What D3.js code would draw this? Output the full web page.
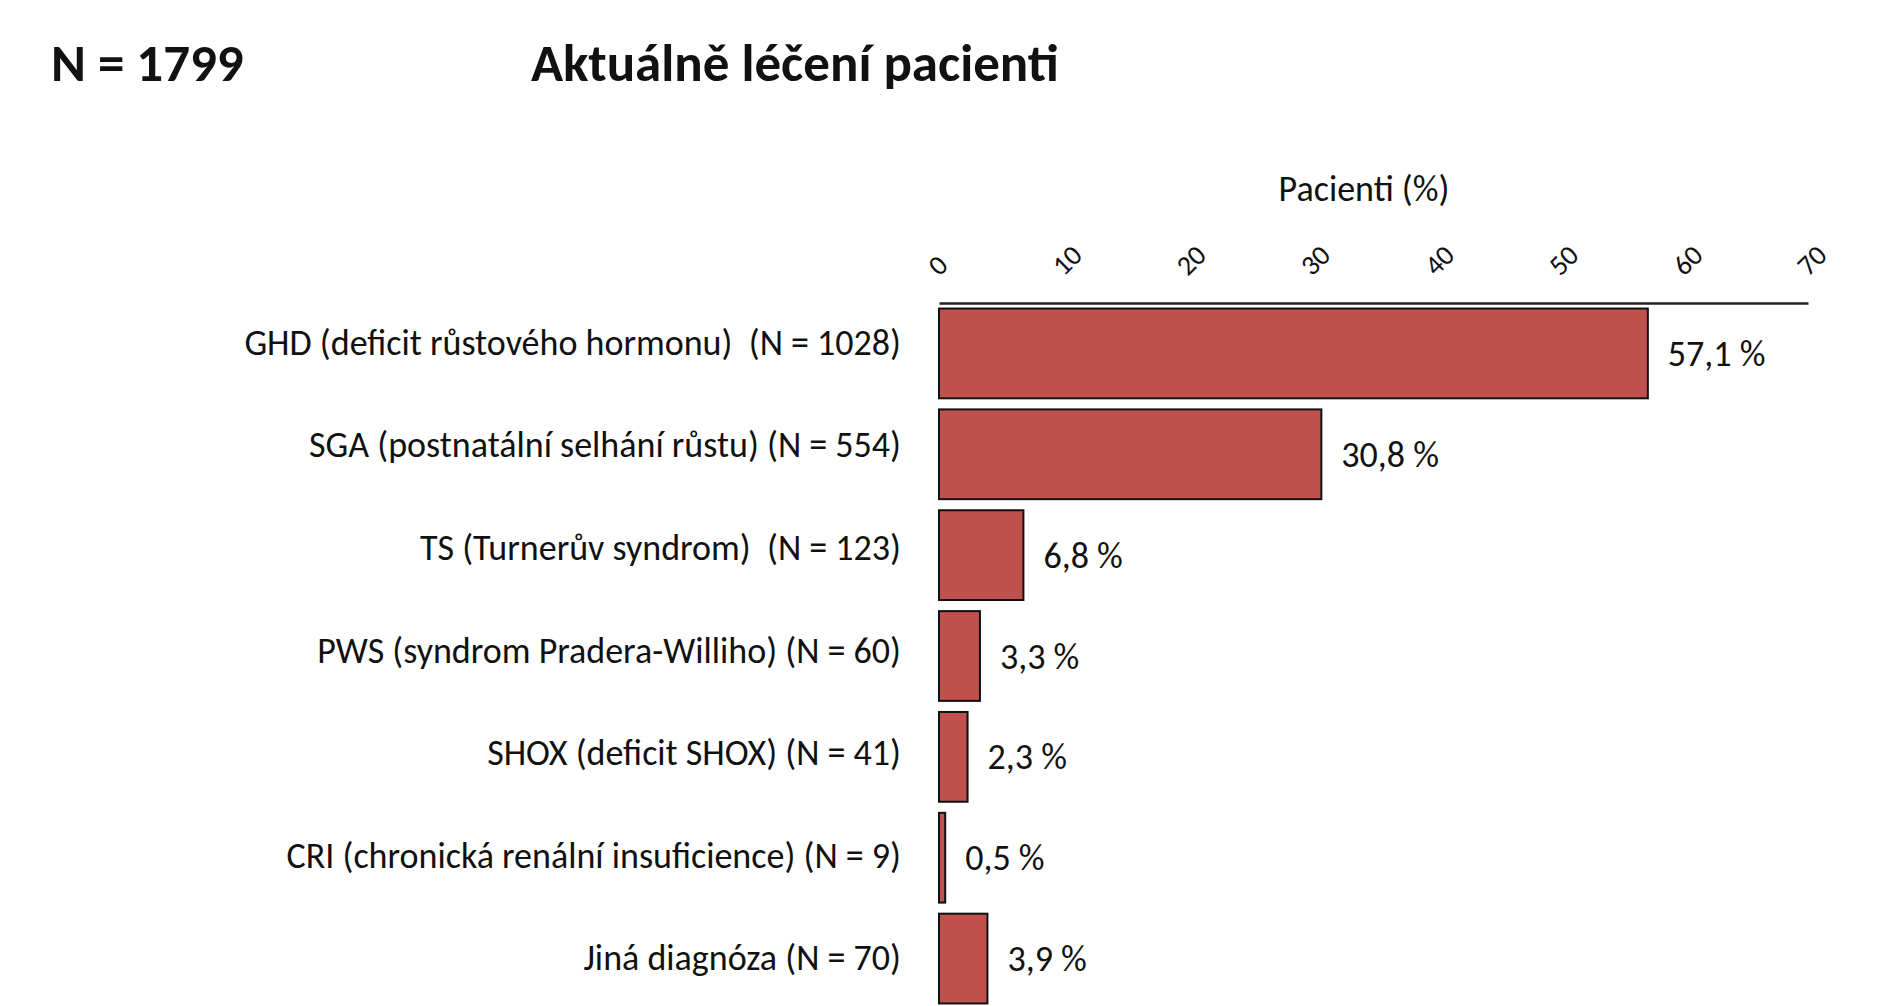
<!DOCTYPE html>
<html>
<head>
<meta charset="utf-8">
<script src="https://cdn.jsdelivr.net/npm/d3@7"></script>
<style>
  body { margin: 0; background: #fff; }
  text { font-family: Carlito, Lato, "Open Sans", sans-serif; fill: #111; white-space: pre; }
</style>
</head>
<body>
<script>
var categories = [
  "GHD (deficit růstového hormonu)  (N = 1028)",
  "SGA (postnatální selhání růstu) (N = 554)",
  "TS (Turnerův syndrom)  (N = 123)",
  "PWS (syndrom Pradera-Williho) (N = 60)",
  "SHOX (deficit SHOX) (N = 41)",
  "CRI (chronická renální insuficience) (N = 9)",
  "Jiná diagnóza (N = 70)"
];
var values = [57.1, 30.8, 6.8, 3.3, 2.3, 0.5, 3.9];
var valueLabels = ["57,1 %", "30,8 %", "6,8 %", "3,3 %", "2,3 %", "0,5 %", "3,9 %"];
var ticks = [0, 10, 20, 30, 40, 50, 60, 70];

var width = 1888,
    height = 1006,
    svg = d3.select("body").append("svg")
      .attr("width", width)
      .attr("height", height);

var x = d3.scaleLinear().domain([0, 70]).range([939, 1808]);
var y = d3.scaleBand().domain(categories).range([303, 1009]).paddingInner(0.11).paddingOuter(0.055);
// category text sits on its own, slightly wider band layout
var yLabel = d3.scaleBand().domain(categories).range([292, 1010]);

// titles
svg.append("text").attr("x", 51).attr("y", 81)
  .style("font-size", "53px").style("font-weight", "bold")
  .text("N = 1799");
svg.append("text").attr("x", 531).attr("y", 81)
  .style("font-size", "53px").style("font-weight", "bold")
  .text("Aktuálně léčení pacienti");

svg.append("text").attr("x", 1364).attr("y", 201)
  .attr("text-anchor", "middle")
  .style("font-size", "36px")
  .text("Pacienti (%)");

// bars
svg.selectAll("rect.bar")
  .data(values)
  .enter().append("rect")
    .attr("class", "bar")
    .attr("x", x(0))
    .attr("y", function(d, i) { return y(categories[i]); })
    .attr("width", function(d) { return x(d) - x(0); })
    .attr("height", y.bandwidth())
    .attr("fill", "#c0504d")
    .attr("stroke", "#111")
    .attr("stroke-width", 2);

// value labels
svg.selectAll("text.val")
  .data(values)
  .enter().append("text")
    .attr("class", "val")
    .attr("x", function(d) { return x(d) + 20; })
    .attr("y", function(d, i) { return y(categories[i]) + y.bandwidth() / 2; })
    .attr("dy", "0.35em")
    .style("font-size", "36px")
    .text(function(d, i) { return valueLabels[i]; });

// category labels
var yAxis = svg.append("g")
  .attr("transform", "translate(" + (x(0) - 38) + ",0)")
  .call(d3.axisLeft(yLabel).tickSize(0).tickPadding(0));
yAxis.select(".domain").remove();
yAxis.selectAll("text")
  .style("font-size", "36px")
  .style("font-family", null)
  .attr("fill", "#111");

// top axis
var xAxis = svg.append("g")
  .attr("transform", "translate(0,303)")
  .call(d3.axisTop(x).tickValues(ticks).tickSize(0).tickPadding(0).tickFormat(d3.format("d")));
xAxis.select(".domain")
  .attr("stroke", "#222")
  .attr("stroke-width", 2.5);
xAxis.selectAll("text")
  .style("font-size", "28px")
  .style("font-family", null)
  .attr("fill", "#111")
  .attr("text-anchor", "start")
  .attr("transform", "translate(0,-26) rotate(-45)")
  .attr("dy", "0");
</script>
</body>
</html>
